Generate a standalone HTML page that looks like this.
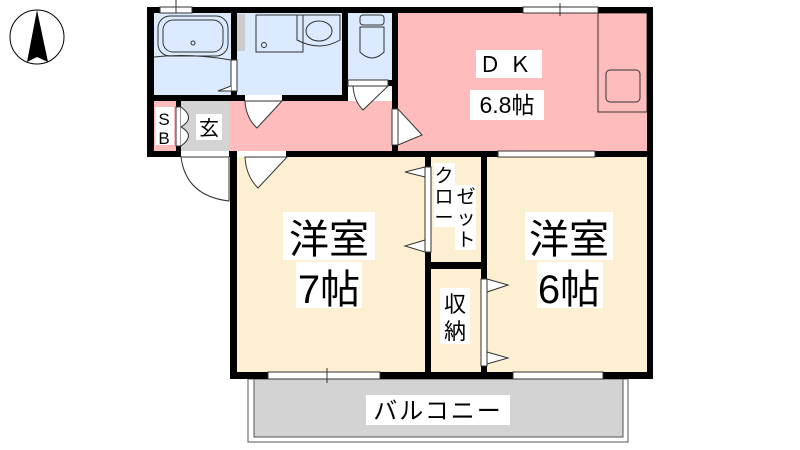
<!DOCTYPE html>
<html><head><meta charset="utf-8"><style>
html,body{margin:0;padding:0;background:#fff;}
svg{display:block;}
text{font-family:"Liberation Sans","Noto Sans CJK JP",sans-serif;fill:#000;}
</style></head><body>
<svg width="800" height="450" viewBox="0 0 800 450" xmlns="http://www.w3.org/2000/svg">
<!-- compass -->
<circle cx="37" cy="37" r="27" fill="#fff" stroke="#000" stroke-width="1"/>
<polygon points="37,10 27,62 37,57 48,62" fill="#000"/>

<!-- balcony -->
<rect x="248" y="379" width="380" height="63" fill="#fff" stroke="#555" stroke-width="1"/>
<rect x="254" y="379" width="369" height="58" fill="#d3d3d3" stroke="#555" stroke-width="1"/>

<!-- room fills -->
<rect x="154" y="13" width="78" height="82" fill="#dbeafe"/>
<rect x="237" y="13" width="105" height="82" fill="#dbeafe"/>
<rect x="348" y="13" width="44" height="67" fill="#dbeafe"/>
<rect x="154" y="101" width="244" height="50" fill="#ffbcbc"/>
<rect x="181" y="101" width="48" height="50" fill="#d3d3d3"/>
<rect x="398" y="13" width="249" height="138" fill="#ffbcbc"/>
<rect x="237" y="157" width="410" height="215" fill="#fdf0d2"/>

<!-- fixtures -->
<rect x="158" y="16" width="70" height="40" rx="12" fill="none" stroke="#333"/>
<rect x="163" y="20" width="60" height="32" rx="10" fill="none" stroke="#333"/>
<circle cx="193" cy="43" r="2" fill="none" stroke="#333"/>
<path d="M154 57 Q190 53 231 60" fill="none" stroke="#333"/>
<rect x="237" y="14" width="8" height="37" fill="#ccc"/>
<rect x="256" y="15" width="47" height="37" fill="none" stroke="#333"/>
<circle cx="264" cy="45" r="2.5" fill="none" stroke="#333"/>
<path d="M297 15 H340 V40 Q320 52 297 40 Z" fill="none" stroke="#333"/>
<ellipse cx="319" cy="31" rx="13" ry="10" fill="none" stroke="#333"/>
<rect x="360" y="15" width="24" height="10" rx="3" fill="none" stroke="#333"/>
<path d="M360 27 H384 V52 Q372 64 360 52 Z" fill="none" stroke="#333"/>
<rect x="598" y="13" width="49" height="99" fill="none" stroke="#333"/>
<rect x="606" y="70" width="34" height="32" rx="4" fill="none" stroke="#333"/>

<!-- walls -->
<g fill="#000">
<rect x="147" y="7" width="251" height="6"/>
<rect x="398" y="7" width="125" height="6"/>
<rect x="598" y="7" width="55" height="6"/>
<rect x="147" y="7" width="7" height="150"/>
<rect x="147" y="151" width="34" height="6"/>
<rect x="229" y="151" width="8" height="6"/>
<rect x="286" y="151" width="112" height="6"/>
<rect x="398" y="151" width="100" height="6"/>
<rect x="595" y="151" width="58" height="6"/>
<rect x="647" y="7" width="6" height="372"/>
<rect x="231" y="13" width="6" height="47"/>
<rect x="231" y="91" width="6" height="10"/>
<rect x="154" y="95" width="91" height="6"/>
<rect x="282" y="95" width="66" height="6"/>
<rect x="342" y="13" width="6" height="88"/>
<rect x="348" y="80" width="5" height="6"/>
<rect x="388" y="80" width="4" height="6"/>
<rect x="392" y="7" width="6" height="102"/>
<rect x="392" y="145" width="6" height="10"/>
<rect x="176" y="101" width="5" height="6"/>
<rect x="176" y="146" width="5" height="6"/>
<rect x="230" y="152" width="7" height="227"/>
<rect x="230" y="372" width="38" height="7"/>
<rect x="380" y="372" width="133" height="7"/>
<rect x="603" y="372" width="50" height="7"/>
<rect x="425" y="157" width="6" height="10"/>
<rect x="425" y="252" width="6" height="127"/>
<rect x="481" y="157" width="6" height="122"/>
<rect x="481" y="366" width="6" height="13"/>
<rect x="431" y="262" width="50" height="7"/>
</g>

<!-- windows -->
<g fill="#fff" stroke="#333" stroke-width="1">
<rect x="160" y="7" width="32" height="6"/>
<rect x="523" y="7" width="75" height="6"/>
<rect x="498" y="151" width="97" height="6"/>
<rect x="268" y="372" width="112" height="7"/>
<rect x="513" y="372" width="90" height="7"/>
<rect x="425" y="167" width="6" height="85"/>
<rect x="481" y="279" width="6" height="87"/>
<rect x="176" y="107" width="5" height="39"/>
<rect x="231" y="60" width="6" height="31"/>
<rect x="392" y="109" width="6" height="36"/>
<rect x="348" y="80" width="40" height="6"/>
</g>
<line x1="176" y1="0" x2="176" y2="13" stroke="#333"/>
<line x1="560" y1="3" x2="560" y2="16" stroke="#333"/>
<line x1="327" y1="368" x2="327" y2="383" stroke="#333"/>

<!-- doors -->
<g fill="#fff" stroke="#333" stroke-width="1">
<path d="M245 101 Q246 118 257 128 L282 101 Z"/>
<path d="M353 86 Q354 101 363 110 L388 86 Z"/>
<path d="M398 109 V145 L422 135 Z"/>
<path d="M245 157 Q246 176 258 188 L287 157 Z"/>
<path d="M181 157 Q186 196 229 201 V157 Z"/>
<path d="M181 107 Q196 118 181 127"/>
<path d="M181 146 Q196 135 181 127"/>
<path d="M231 86 L218 91 L231 91"/>
<path d="M425 167 L405 172 L425 177 Z"/>
<path d="M425 240 L405 246 L425 252 Z"/>
<path d="M487 279 L508 285 L487 292 Z"/>
<path d="M487 352 L508 358 L487 364 Z"/>
</g>

<!-- labels -->
<g fill="#fff">
<rect x="155" y="107" width="19" height="38"/>
<rect x="196" y="114" width="26" height="26"/>
<rect x="476" y="50" width="66" height="28"/>
<rect x="470" y="90" width="74" height="30"/>
<rect x="283" y="212" width="92" height="48"/>
<rect x="296" y="262" width="66" height="46"/>
<rect x="525" y="212" width="88" height="48"/>
<rect x="537" y="262" width="66" height="46"/>
<rect x="434" y="163" width="21" height="64"/>
<rect x="455" y="185" width="21" height="65"/>
<rect x="440" y="288" width="30" height="56"/>
<rect x="366" y="395" width="144" height="30"/>
</g>
<text x="164" y="125" font-size="17" text-anchor="middle">S</text>
<text x="164" y="144" font-size="17" text-anchor="middle">B</text>
<text x="209" y="135" font-size="20" text-anchor="middle">玄</text>
<text x="509" y="72" font-size="22" text-anchor="middle" letter-spacing="8">ＤＫ</text>
<text x="507" y="113" font-size="23" text-anchor="middle">6.8帖</text>
<text x="329" y="253" font-size="40" text-anchor="middle">洋室</text>
<text x="329" y="303" font-size="40" text-anchor="middle">7帖</text>
<text x="569" y="253" font-size="40" text-anchor="middle">洋室</text>
<text x="569" y="303" font-size="40" text-anchor="middle">6帖</text>
<text x="444" y="182" font-size="19" text-anchor="middle">ク</text>
<text x="444" y="203" font-size="19" text-anchor="middle">ロ</text>
<text x="444" y="224" font-size="19" text-anchor="middle">ー</text>
<text x="466" y="203" font-size="19" text-anchor="middle">ゼ</text>
<text x="466" y="224" font-size="19" text-anchor="middle">ッ</text>
<text x="466" y="246" font-size="19" text-anchor="middle">ト</text>
<text x="455" y="312" font-size="22" text-anchor="middle">収</text>
<text x="455" y="339" font-size="22" text-anchor="middle">納</text>
<text x="438" y="419" font-size="24" text-anchor="middle" letter-spacing="2">バルコニー</text>
</svg>
</body></html>
